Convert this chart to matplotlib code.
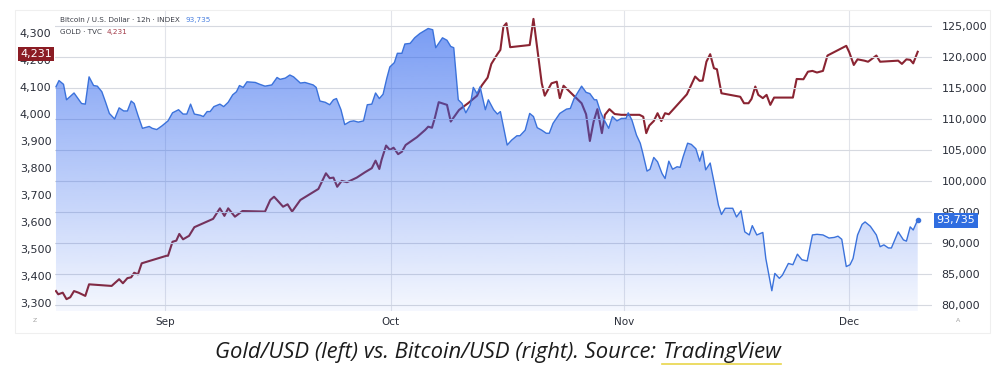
import numpy as np
import matplotlib
matplotlib.use('Agg')
import matplotlib.pyplot as plt
from matplotlib.patches import Polygon, Rectangle
from matplotlib.lines import Line2D

# ---- data (x = days from 1 Sep) ----
btc_day = [-14.5,-14.1,-13.5,-13.1,-12.1,-11.1,-10.6,-10.1,-9.5,-9.0,-8.4,-7.9,-7.4,-6.7,-6.1,-5.5,-5.0,-4.5,-4.1,-3.6,
           -3.0,-2.1,-1.7,-1.1,-0.4,0.4,1.0,1.8,2.4,2.9,3.4,3.9,4.7,5.1,5.6,6.0,6.5,7.3,7.8,8.4,
           9.0,9.5,9.9,10.4,10.9,12.0,12.6,13.3,14.2,14.9,15.3,16.0,16.6,17.1,18.0,18.6,19.7,20.1,20.6,21.3,
           21.9,22.4,22.8,23.4,23.9,24.6,25.1,25.7,26.4,26.9,27.5,28.0,28.5,29.0,29.5,29.9,30.5,30.9,31.5,31.9,
           32.6,33.2,33.9,35.0,35.6,36.0,36.9,37.5,38.0,38.4,39.0,39.5,40.0,40.6,41.0,41.5,41.9,42.6,43.0,43.7,
           44.2,44.6,45.5,46.1,46.8,47.2,47.9,48.5,49.0,49.5,50.1,50.7,51.1,51.6,52.5,53.4,53.9,54.4,55.4,56.0,
           56.5,57.1,57.4,57.9,58.3,59.0,59.5,60.1,60.7,61.3,61.6,62.1,62.7,63.2,63.5,64.1,64.5,65.0,65.5,66.1,
           66.5,67.0,67.5,68.1,68.5,68.9,69.5,70.0,70.6,71.1,71.5,71.9,72.5,73.0,73.6,74.0,74.5,75.5,76.0,76.6,
           77.1,77.7,78.1,78.7,79.5,79.9,80.7,81.1,81.7,82.1,82.9,83.5,84.1,84.7,85.4,86.1,86.7,87.5,88.3,89.0,
           89.5,90.0,90.6,91.1,91.5,92.1,92.7,93.1,93.8,94.6,95.1,95.6,96.2,96.6,97.5,98.2,98.6,99.1,99.5,100.1]
btc_val = [115200,116200,115600,113100,114200,112500,112400,116800,115400,115300,114400,112700,110900,110000,111800,111300,111300,112900,112500,110600,
           108500,108800,108500,108300,108900,109700,111000,111500,110800,110800,112400,110800,110600,110400,111200,111200,112000,112400,112000,112700,
           113900,114400,115400,115100,116000,115900,115600,115300,115500,116700,116400,116600,117100,116800,115800,115900,115500,115100,112900,112700,
           112300,113100,113300,111500,109100,109600,109700,109500,109700,112300,112400,114200,113300,114000,116600,118400,119100,120600,120600,122100,
           122200,123100,123800,124600,124400,121500,123100,122700,121700,121500,113100,112500,111000,112300,115100,114100,115200,111500,113100,111500,
           110800,111200,105800,106600,107300,107300,108200,110900,110400,108600,108200,107700,107700,109300,110900,111600,111700,113300,115300,114300,
           114100,113100,113100,111200,110100,108500,110400,109700,110100,110100,111000,109800,107400,106100,104700,101600,101900,103800,103100,101200,
           100400,103200,101900,102300,102200,103900,106100,105900,105200,103200,104800,101800,102900,99900,96100,94600,95600,95600,94200,95200,
           91800,91300,92800,91300,91700,87500,82300,85100,84300,84800,86700,86500,88200,87300,87100,91300,91400,91300,90800,90900,
           91100,90600,86200,86500,87500,91300,93000,93400,92700,91300,89400,89700,89200,89200,91800,90500,90300,92600,92100,93735]

gold_day = [-14.5,-14.2,-13.6,-13.1,-12.6,-12.1,-11.5,-10.6,-10.1,-7.1,-6.7,-6.1,-5.6,-5.0,-4.5,-4.1,-3.6,-3.1,0.2,0.4,
            1.0,1.5,1.9,2.4,3.2,3.9,6.4,7.3,7.9,8.4,9.3,10.3,13.3,14.0,14.5,14.9,15.7,16.3,16.9,18.0,
            20.4,21.4,21.9,22.4,22.9,23.5,24.2,24.6,25.5,26.6,27.5,28.0,28.5,28.8,29.4,29.9,30.4,31.0,31.5,32.0,
            33.5,34.6,35.0,35.5,35.9,36.4,37.5,38.0,39.1,40.3,41.5,42.1,42.9,43.4,44.2,44.6,45.0,45.4,45.9,48.5,
            49.0,49.5,50.1,50.5,51.4,52.1,52.5,53.0,55.4,56.0,56.5,57.0,57.5,58.1,58.5,59.1,59.8,60.7,63.1,63.6,
            64.0,64.4,65.0,65.5,66.0,66.5,67.0,69.4,70.5,71.1,71.5,72.0,72.5,73.0,73.4,74.0,76.5,77.0,77.6,78.0,
            78.5,78.9,79.5,80.0,80.5,81.0,83.5,84.0,84.9,85.5,86.1,86.7,87.5,88.1,90.6,91.0,91.6,92.1,93.0,93.5,
            94.6,95.1,97.5,98.0,98.6,99.1,99.5,100.1]
gold_val = [3343,3331,3337,3313,3320,3343,3337,3325,3368,3362,3372,3387,3372,3391,3394,3411,3405,3446,3474,3474,
            3526,3530,3555,3535,3548,3580,3611,3650,3622,3650,3619,3640,3638,3681,3693,3681,3656,3665,3638,3681,
            3722,3780,3762,3764,3730,3752,3747,3752,3764,3784,3799,3827,3796,3830,3883,3867,3875,3851,3860,3885,
            3914,3941,3953,3949,3987,4044,4034,3972,4015,4040,4068,4105,4135,4186,4222,4238,4324,4337,4248,4256,
            4353,4244,4114,4068,4114,4120,4059,4105,4040,3999,3900,3972,4018,3929,3997,4018,4000,3997,3997,3990,
            3929,3957,3974,4003,3974,4003,3999,4073,4139,4123,4124,4194,4222,4170,4166,4077,4064,4040,4040,4056,
            4102,4071,4059,4071,4034,4061,4061,4130,4129,4157,4160,4154,4160,4217,4253,4229,4182,4203,4198,4194,
            4217,4194,4198,4186,4203,4201,4188,4231]

month_pos = [0, 30, 61, 91]
month_labels = ['Sep', 'Oct', 'Nov', 'Dec']
gold_ticks = [3300, 3400, 3500, 3600, 3700, 3800, 3900, 4000, 4100, 4200, 4300]
btc_ticks = [80000, 85000, 90000, 95000, 100000, 105000, 110000, 115000, 120000, 125000]
btc_last = '93,735'
gold_last = '4,231'
caption_main = 'Gold/USD (left) vs. Bitcoin/USD (right). Source:'
caption_link = 'TradingView'

# ---- figure ----
W, H = 1000, 373
fig = plt.figure(figsize=(W / 100, H / 100), dpi=100)
fig.patch.set_facecolor('white')

def fx(px):
    return px / W

def fy(py):
    return 1 - py / H

# faint outer frame of the screenshot
fig.add_artist(Rectangle((fx(15), fy(333)), fx(990) - fx(15), fy(10) - fy(333),
                         transform=fig.transFigure, fill=False, edgecolor='#efefef', lw=0.8))

ax = fig.add_axes([fx(55), fy(311), fx(932) - fx(55), fy(10) - fy(311)])
ax2 = ax.twinx()
xlim = (-14.63, 102.0)
ylim_g = (3269, 4386)
ylim_b = (79032, 127584)

for a in (ax, ax2):
    for s in a.spines.values():
        s.set_visible(False)
ax.patch.set_facecolor('white')

# gold line (beneath the bitcoin area, so it is tinted where covered)
ax.plot(gold_day, gold_val, color='#8a2432', lw=1.5, zorder=3, solid_joinstyle='round')

# bitcoin gradient area
verts = list(zip(btc_day, btc_val)) + [(btc_day[-1], ylim_b[0]), (btc_day[0], ylim_b[0])]
poly = Polygon(verts, closed=True, facecolor='none', edgecolor='none')
ax2.add_patch(poly)
n = 256
t = np.linspace(1, 0, n)
grad = np.zeros((n, 1, 4))
grad[:, 0, 0] = 45 / 255
grad[:, 0, 1] = 100 / 255
grad[:, 0, 2] = 238 / 255
grad[:, 0, 3] = 0.05 + 0.62 * t
im = ax2.imshow(grad, extent=[xlim[0], xlim[1], ylim_b[0], ylim_b[1]], aspect='auto',
                origin='upper', zorder=1, interpolation='bilinear')
im.set_clip_path(poly)
ax2.plot(btc_day, btc_val, color='#3b72db', lw=1.0, zorder=4)
ax2.plot([btc_day[-1]], [btc_val[-1]], 'o', color='#3b72db', ms=3, zorder=5)

# grid
ax2.set_yticks(btc_ticks)
ax2.set_yticklabels([f'{v:,}' for v in btc_ticks])
ax2.grid(axis='y', color='#d6d9e0', lw=0.8)
ax2.set_axisbelow(True)
ax.set_xticks(month_pos)
ax.set_xticklabels(month_labels)
ax.grid(axis='x', color='#e2e4ea', lw=0.8)
ax.set_yticks(gold_ticks)
ax.set_yticklabels([f'{v:,}' for v in gold_ticks])

ax.set_xlim(*xlim)
ax2.set_xlim(*xlim)
ax.set_ylim(*ylim_g)
ax2.set_ylim(*ylim_b)

lab_col = '#2a2e39'
ax.tick_params(axis='y', length=0, pad=2.5, labelsize=8, labelcolor=lab_col)
ax.tick_params(axis='x', length=0, pad=4, labelsize=7.5, labelcolor=lab_col)
ax2.tick_params(axis='y', length=0, pad=7, labelsize=8, labelcolor=lab_col)

# value badges
fig.text(fx(36), fy(54), gold_last, ha='center', va='center', color='white', fontsize=8,
         bbox=dict(boxstyle='square,pad=0.22', facecolor='#8b1c24', edgecolor='none'), zorder=10)
fig.text(fx(956), fy(220.5), btc_last, ha='center', va='center', color='white', fontsize=8,
         bbox=dict(boxstyle='square,pad=0.22', facecolor='#2f6de0', edgecolor='none'), zorder=10)

# header legend
fig.text(fx(60), fy(20), 'Bitcoin / U.S. Dollar · 12h · INDEX', ha='left', va='center',
         fontsize=5.2, color='#3c3f48')
fig.text(fx(186), fy(20), btc_last, ha='left', va='center', fontsize=5.2, color='#4a80e0')
fig.text(fx(60), fy(32), 'GOLD · TVC', ha='left', va='center', fontsize=5.2, color='#3c3f48')
fig.text(fx(107), fy(32), gold_last, ha='left', va='center', fontsize=5.2, color='#a23a48')

# small corner markers
fig.text(fx(35), fy(321), 'Z', ha='center', va='center', fontsize=4.5, color='#a0a0a0')
fig.text(fx(958), fy(321), 'A', ha='center', va='center', fontsize=4.5, color='#a0a0a0')

# caption
cap_kw = dict(fontsize=15.8, family='Open Sans', style='italic', color='#1c1c1c', va='baseline')
t1 = fig.text(0, fy(358), caption_main, ha='left', **cap_kw)
t2 = fig.text(0, fy(358), caption_link, ha='left', **cap_kw)
fig.canvas.draw()
r = fig.canvas.get_renderer()
w1 = t1.get_window_extent(r).width
w2 = t2.get_window_extent(r).width
gap = 6
total = w1 + gap + w2
x0 = (W - total) / 2 - 2
t1.set_x(fx(x0))
t2.set_x(fx(x0 + w1 + gap))
fig.add_artist(Line2D([fx(x0 + w1 + gap), fx(x0 + total)], [fy(363.5), fy(363.5)],
                      transform=fig.transFigure, color='#e9d64a', lw=1.2))

fig.savefig('out.png', dpi=100, facecolor='white')
